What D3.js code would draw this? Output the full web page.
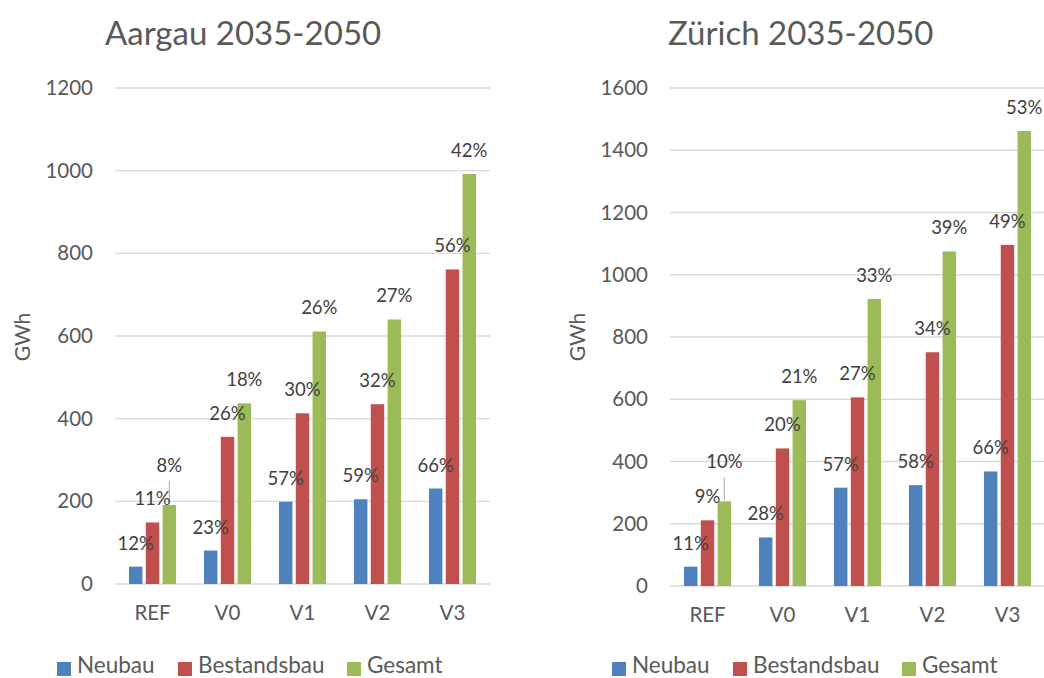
<meta charset="utf-8">
<body></body>
<script src="https://d3js.org/d3.v7.min.js"></script>
<script>
// Daten
var categories = ["REF", "V0", "V1", "V2", "V3"];
var seriesNames = ["Neubau", "Bestandsbau", "Gesamt"];
var colors = ["#4f81bd", "#c0504d", "#9bbb59"];

var aargauNeubau = [42, 81, 199, 205, 231];
var aargauBestand = [149, 356, 413, 435, 761];
var aargauGesamt = [191, 437, 611, 640, 992];
var aargauNeubauPct = ["12%", "23%", "57%", "59%", "66%"];
var aargauBestandPct = ["11%", "26%", "30%", "32%", "56%"];
var aargauGesamtPct = ["8%", "18%", "26%", "27%", "42%"];
var aargauTicks = [0, 200, 400, 600, 800, 1000, 1200];

var zuerichNeubau = [62, 156, 316, 324, 368];
var zuerichBestand = [211, 442, 606, 751, 1096];
var zuerichGesamt = [272, 597, 922, 1075, 1462];
var zuerichNeubauPct = ["11%", "28%", "57%", "58%", "66%"];
var zuerichBestandPct = ["9%", "20%", "27%", "34%", "49%"];
var zuerichGesamtPct = ["10%", "21%", "33%", "39%", "53%"];
var zuerichTicks = [0, 200, 400, 600, 800, 1000, 1200, 1400, 1600];

var svg = d3.select("body")
  .append("svg")
  .attr("width", 1044)
  .attr("height", 678);

svg.append("rect").attr("width", 1044).attr("height", 678).attr("fill", "#fff");

function drawChart(opts) {
  var g = svg.append("g");
  var values = [opts.neubau, opts.bestand, opts.gesamt];
  var pcts = [opts.neubauPct, opts.bestandPct, opts.gesamtPct];

  var x0 = d3.scaleBand().domain(categories)
    .range([opts.left, opts.left + 375]).paddingInner(0.373).paddingOuter(0.187);
  var x1 = d3.scaleBand().domain(seriesNames)
    .range([0, x0.bandwidth()]).paddingInner(0.2);
  var y = d3.scaleLinear().domain([0, opts.max]).range([opts.bottom, 88]);

  // title
  g.append("text")
    .attr("class", "title")
    .attr("x", opts.titleX)
    .attr("y", 45)
    .text(opts.title);

  // grid
  g.selectAll("line.grid")
    .data(opts.ticks)
    .enter().append("line")
    .attr("class", "grid")
    .attr("x1", opts.left).attr("x2", opts.left + 375)
    .attr("y1", function(d) { return y(d); })
    .attr("y2", function(d) { return y(d); });

  // y axis
  var yAxis = g.append("g")
    .attr("class", "axis yaxis")
    .attr("transform", "translate(" + (opts.left - 22) + ",0)")
    .call(d3.axisLeft(y).tickValues(opts.ticks).tickFormat(d3.format("d")).tickSize(0).tickPadding(0));
  yAxis.select(".domain").remove();

  // x axis
  var xAxis = g.append("g")
    .attr("class", "axis xaxis")
    .attr("transform", "translate(0," + opts.bottom + ")")
    .call(d3.axisBottom(x0).tickSize(0).tickPadding(21));
  xAxis.select(".domain").remove();

  g.append("text")
    .attr("class", "ylabel")
    .attr("transform", "translate(" + opts.ylabelX + ",337) rotate(-90)")
    .attr("text-anchor", "middle")
    .attr("dominant-baseline", "central")
    .text("GWh");

  var rows = [];
  categories.forEach(function(c, i) {
    seriesNames.forEach(function(s, j) {
      rows.push({cat: c, series: s, idx: j, value: values[j][i], pct: pcts[j][i], leader: (i === 0 && j === 2)});
    });
  });

  g.selectAll("rect.bar")
    .data(rows)
    .enter().append("rect")
    .attr("class", "bar")
    .attr("x", function(d) { return x0(d.cat) + x1(d.series); })
    .attr("width", x1.bandwidth())
    .attr("y", function(d) { return y(d.value); })
    .attr("height", function(d) { return opts.bottom - y(d.value); })
    .attr("fill", function(d) { return colors[d.idx]; });

  // leader line for the moved label
  g.selectAll("line.leader")
    .data(rows.filter(function(d) { return d.leader; }))
    .enter().append("line")
    .attr("class", "leader")
    .attr("x1", function(d) { return x0(d.cat) + x1(d.series) + x1.bandwidth() / 2; })
    .attr("x2", function(d) { return x0(d.cat) + x1(d.series) + x1.bandwidth() / 2; })
    .attr("y1", function(d) { return y(d.value) - 1; })
    .attr("y2", function(d) { return y(d.value) - 24; });

  g.selectAll("text.lbl")
    .data(rows)
    .enter().append("text")
    .attr("class", "lbl")
    .attr("x", function(d) { return x0(d.cat) + x1(d.series) + x1.bandwidth() / 2; })
    .attr("y", function(d) { return y(d.value) - (d.leader ? 40 : 24); })
    .attr("text-anchor", "middle")
    .attr("dominant-baseline", "central")
    .text(function(d) { return d.pct; });

  // legend
  var leg = g.selectAll("g.leg")
    .data(seriesNames)
    .enter().append("g")
    .attr("class", "leg")
    .attr("transform", function(d, i) { return "translate(" + opts.legendX[i] + ",669)"; });
  leg.append("rect")
    .attr("x", 0).attr("y", -7).attr("width", 14).attr("height", 14)
    .attr("fill", function(d, i) { return colors[i]; });
  leg.append("text")
    .attr("x", 20)
    .attr("y", 4)
    .text(String);
}

drawChart({
  title: "Aargau 2035-2050", titleX: 105,
  left: 115, bottom: 584, max: 1200, ticks: aargauTicks, ylabelX: 21,
  neubau: aargauNeubau, bestand: aargauBestand, gesamt: aargauGesamt,
  neubauPct: aargauNeubauPct, bestandPct: aargauBestandPct, gesamtPct: aargauGesamtPct,
  legendX: [57, 178, 347]
});

drawChart({
  title: "Zürich 2035-2050", titleX: 668,
  left: 670, bottom: 586, max: 1600, ticks: zuerichTicks, ylabelX: 576,
  neubau: zuerichNeubau, bestand: zuerichBestand, gesamt: zuerichGesamt,
  neubauPct: zuerichNeubauPct, bestandPct: zuerichBestandPct, gesamtPct: zuerichGesamtPct,
  legendX: [612, 733, 902]
});
</script>
<style>
body { margin: 0; }
svg text {
  font-family: Lato, "Open Sans", sans-serif;
  fill: #595959;
}
.title { font-size: 33px; }
.axis text { font-size: 20.5px; fill: #595959; font-family: Lato, sans-serif; }
.yaxis text { text-anchor: end; }
.xaxis text { text-anchor: middle; }
.ylabel { font-size: 21px; }
.lbl { font-size: 18.5px; fill: #404040; }
.leg text { font-size: 22.5px; }
.grid { stroke: #d9d9d9; stroke-width: 1.3; }
.leader { stroke: #a6a6a6; stroke-width: 1; }
</style>
